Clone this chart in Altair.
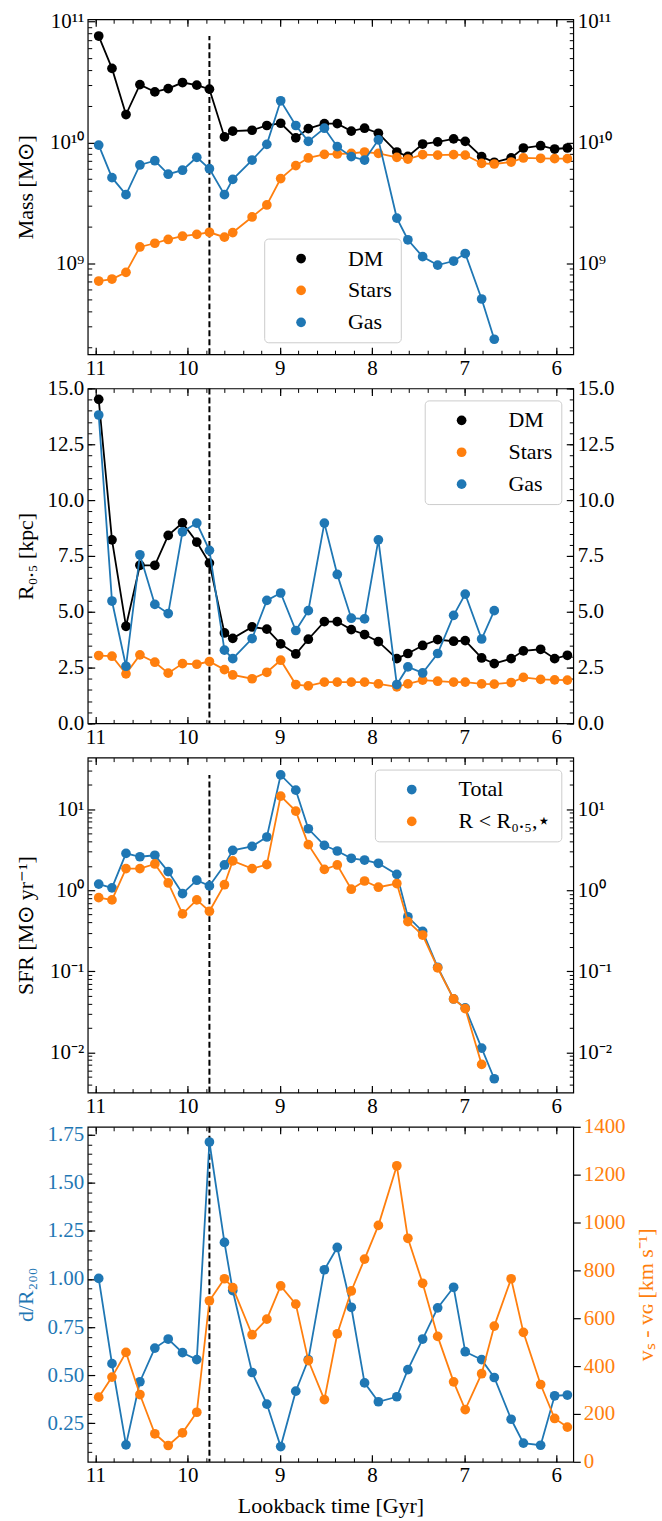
import altair as alt
import pandas as pd

# ---------------- data ----------------
T = [10.964, 10.820, 10.668, 10.517, 10.355, 10.21, 10.055, 9.90, 9.763, 9.60,
     9.51, 9.30, 9.14, 8.99, 8.826, 8.69, 8.516, 8.376, 8.224, 8.08,
     7.93, 7.73, 7.61, 7.45, 7.287, 7.114, 6.988, 6.81, 6.673, 6.49,
     6.357, 6.17, 6.018, 5.88]
T_MERGE = 9.763

MASS_DM = [7.6e10, 4.1e10, 1.70e10, 3.01e10, 2.62e10, 2.79e10, 3.13e10, 2.98e10, 2.76e10, 1.11e10,
           1.24e10, 1.26e10, 1.38e10, 1.44e10, 1.09e10, 1.30e10, 1.43e10, 1.43e10, 1.24e10, 1.31e10,
           1.19e10, 8.32e9, 7.66e9, 9.69e9, 1.01e10, 1.07e10, 1.02e10, 7.62e9, 6.84e9, 7.43e9,
           8.98e9, 9.38e9, 8.81e9, 8.98e9]
MASS_STARS = [7.1e8, 7.38e8, 8.38e8, 1.36e9, 1.46e9, 1.57e9, 1.67e9, 1.73e9, 1.80e9, 1.64e9,
              1.79e9, 2.41e9, 3.03e9, 5.01e9, 6.42e9, 7.43e9, 7.96e9, 8.01e9, 8.11e9, 8.32e9,
              8.11e9, 7.52e9, 7.28e9, 7.91e9, 7.85e9, 7.91e9, 7.85e9, 6.70e9, 6.62e9, 6.87e9,
              7.43e9, 7.38e9, 7.33e9, 7.33e9]
MASS_GAS = [9.5e9, 5.1e9, 3.69e9, 6.5e9, 7.05e9, 5.45e9, 5.88e9, 7.52e9, 6.05e9, 3.69e9,
            4.94e9, 7.14e9, 9.63e9, 2.21e10, 1.38e10, 1.02e10, 1.31e10, 9.21e9, 7.62e9, 7.14e9,
            1.05e10, 2.36e9, 1.56e9, 1.13e9, 9.62e8, 1.04e9, 1.20e9, 5.04e8, 2.34e8]

R_DM = [14.51, 8.22, 4.35, 7.08, 7.08, 8.42, 8.98, 8.12, 7.18, 4.05,
        3.81, 4.32, 4.22, 3.56, 3.11, 3.77, 4.56, 4.56, 4.20, 3.98,
        3.66, 2.90, 3.13, 3.49, 3.75, 3.68, 3.71, 2.93, 2.68, 2.90,
        3.25, 3.32, 2.90, 3.05]
R_STARS = [3.04, 3.01, 2.22, 3.07, 2.74, 2.25, 2.68, 2.65, 2.77, 2.41,
           2.17, 2.00, 2.29, 2.83, 1.74, 1.68, 1.85, 1.85, 1.85, 1.85,
           1.77, 1.64, 1.77, 1.94, 1.89, 1.85, 1.85, 1.77, 1.76, 1.83,
           2.06, 1.97, 1.95, 1.94]
R_GAS = [13.81, 5.48, 2.56, 7.55, 5.33, 4.92, 8.58, 8.97, 7.75, 3.28,
         2.90, 3.80, 5.51, 5.84, 4.16, 5.05, 8.97, 6.67, 4.71, 4.68,
         8.22, 1.74, 2.53, 2.26, 3.13, 4.84, 5.79, 3.78, 5.05]

SFR_TOTAL = [1.19, 1.07, 2.85, 2.59, 2.70, 1.70, 0.91, 1.33, 1.13, 2.05,
             3.11, 3.48, 4.54, 26.5, 17.2, 5.74, 3.58, 3.05, 2.48, 2.36,
             2.15, 1.57, 0.47, 0.31, 0.112, 0.0455, 0.0352, 0.01125, 0.00471]
SFR_INNER = [0.81, 0.76, 1.85, 1.85, 2.11, 1.23, 0.51, 0.76, 0.55, 1.17,
             2.30, 1.85, 2.07, 14.5, 9.48, 3.65, 1.81, 2.05, 1.03, 1.30,
             1.09, 1.21, 0.41, 0.28, 0.110, 0.0455, 0.0346, 0.00708]

DIST = [1.003, 0.560, 0.138, 0.466, 0.641, 0.688, 0.617, 0.581, 1.712, 1.190,
        0.940, 0.514, 0.350, 0.129, 0.417, 0.581, 1.048, 1.164, 0.853, 0.460,
        0.362, 0.388, 0.529, 0.688, 0.850, 0.957, 0.622, 0.581, 0.488, 0.271,
        0.147, 0.136, 0.393, 0.397]
VREL = [270, 354, 457, 281, 117, 68, 121, 207, 673, 765,
        728, 531, 596, 735, 659, 423, 260, 535, 714, 847,
        988, 1237, 934, 746, 524, 334, 218, 368, 567, 765,
        541, 323, 181, 145]

# ---------------- ticks / labels ----------------
X_MAJOR = [11, 10, 9, 8, 7, 6]
X_MINOR = [6.0, 6.2, 6.4, 6.6, 6.8, 7.0, 7.2, 7.4, 7.6, 7.8, 8.0, 8.2, 8.4, 8.6, 8.8,
           9.0, 9.2, 9.4, 9.6, 9.8, 10.0, 10.2, 10.4, 10.6, 10.8, 11.0]
MASS_MAJOR = [1e9, 1e10, 1e11]
MASS_LABELS = ["10⁹", "10¹⁰", "10¹¹"]
SFR_MAJOR = [1e-2, 1e-1, 1e0, 1e1]
SFR_LABELS = ["10⁻²", "10⁻¹", "10⁰", "10¹"]
R_MAJOR = [0.0, 2.5, 5.0, 7.5, 10.0, 12.5, 15.0]
R_MINOR = [i * 0.5 for i in range(31)]
D_MAJOR = [0.25, 0.50, 0.75, 1.00, 1.25, 1.50, 1.75]
D_MINOR = [round(0.10 + 0.05 * i, 2) for i in range(34)]
V_MAJOR = [0, 200, 400, 600, 800, 1000, 1200, 1400]

FONT = "Liberation Serif"
BLUE, ORANGE, BLACK = "#1f77b4", "#ff7f0e", "#000000"
W, H = 487, 336
MSIZE = 95
LW = 1.8

XSCALE = alt.Scale(domain=[11.083, 5.816], nice=False, zero=False)
MASS_DOM = [10 ** 8.245, 10 ** 11.02]
SFR_DOM = [10 ** -2.498, 10 ** 1.637]


def log_minor(dom, exps):
    out = []
    for e in exps:
        for k in range(2, 10):
            v = k * 10.0 ** e
            if dom[0] <= v <= dom[1]:
                out.append(v)
    return out


def lexpr(values, labels):
    s = "''"
    for v, l in zip(values[::-1], labels[::-1]):
        s = f"datum.value == {v!r} ? '{l}' : ({s})"
    return s


def tick_axis(orient, values, size, width):
    return alt.Axis(orient=orient, values=values, tickSize=size, offset=-size, tickWidth=width,
                    tickColor="black", labels=False, domain=False, grid=False, title=None)


def xlabel_axis(title=None):
    kw = dict(orient="bottom", values=X_MAJOR, format="d", ticks=False, domain=False, grid=False,
              labelPadding=3, labelFlush=False, labelOverlap=False)
    if title:
        kw.update(title=title, titleY=51, titleBaseline="alphabetic")
    else:
        kw.update(title=None)
    return alt.Axis(**kw)


def ylabel_axis(orient, values, title=None, fmt=None, expr=None, color="black"):
    kw = dict(orient=orient, values=values, ticks=False, domain=False, grid=False,
              labelPadding=4, labelFlush=False, labelOverlap=False, labelColor=color)
    if fmt:
        kw["format"] = fmt
    if expr:
        kw["labelExpr"] = expr
    if title:
        kw.update(title=title, titleX=-62, titleBaseline="middle", titleAngle=270, titleColor=color)
    else:
        kw["title"] = None
    return alt.Axis(**kw)


def x_axes(title=None):
    return [xlabel_axis(title), tick_axis("bottom", X_MAJOR, 7, 1.2), tick_axis("bottom", X_MINOR, 4, 1.0),
            tick_axis("top", X_MAJOR, 7, 1.2), tick_axis("top", X_MINOR, 4, 1.0)]


def ghost(df, yfield, yscale, xaxis, yaxis):
    return alt.Chart(df).mark_point(opacity=0, size=1).encode(
        x=alt.X("t:Q", scale=XSCALE, axis=xaxis),
        y=alt.Y(f"{yfield}:Q", scale=yscale, axis=yaxis))


def series(df, names, colors, yscale, legend):
    cscale = alt.Scale(domain=names, range=colors)
    layers = []
    for i, n in enumerate(names):
        sub = df[df.s == n]
        base = alt.Chart(sub).encode(x=alt.X("t:Q", scale=XSCALE, axis=None),
                                     y=alt.Y("v:Q", scale=yscale, axis=None))
        layers.append(base.mark_line(color=colors[i], strokeWidth=LW))
        layers.append(base.mark_circle(size=MSIZE, opacity=1).encode(
            color=alt.Color("s:N", scale=cscale, legend=legend if i == 0 else None)))
    return layers


def long(names, arrays):
    rows = []
    for n, arr in zip(names, arrays):
        for t, v in zip(T, arr):
            rows.append({"t": t, "v": v, "s": n})
    return pd.DataFrame(rows)


def vrule(yscale, y0=None, y1=None):
    enc = dict(x=alt.X(datum=T_MERGE, type="quantitative", scale=XSCALE, axis=None))
    if y0 is not None:
        enc["y"] = alt.Y(datum=y0, type="quantitative", scale=yscale, axis=None)
        enc["y2"] = alt.Y2(datum=y1)
    return alt.Chart(pd.DataFrame({"a": [0]})).mark_rule(
        color="black", strokeWidth=2, strokeDash=[6, 3]).encode(**enc)


def legend(orient, **kw):
    return alt.Legend(orient=orient, title=None, padding=9, symbolOffset=17, labelOffset=36,
                      rowPadding=10, symbolSize=MSIZE, symbolStrokeWidth=0, symbolType="circle",
                      labelFont=FONT, labelFontSize=22, strokeColor="#cccccc",
                      fillColor="rgba(255,255,255,0.8)", cornerRadius=4, **kw)


def panel(df, names, colors, yscale, ymajor, yminor, ytitle, fmt, expr, leg, rule_rng):
    yaxes = [ylabel_axis("left", ymajor, ytitle, fmt, expr),
             tick_axis("left", ymajor, 7, 1.2), tick_axis("left", yminor, 4, 1.0),
             ylabel_axis("right", ymajor, None, fmt, expr),
             tick_axis("right", ymajor, 7, 1.2), tick_axis("right", yminor, 4, 1.0)]
    xs = x_axes() + [None]
    layers = []
    if rule_rng:
        layers.append(vrule(yscale, rule_rng[0], rule_rng[1]))
    else:
        layers.append(vrule(yscale))
    layers += series(df, names, colors, yscale, leg)
    layers += [ghost(df, "v", yscale, xa, ya) for xa, ya in zip(xs, yaxes)]
    return alt.layer(*layers).resolve_axis(x="independent", y="independent").properties(width=W, height=H)


# panel 1 : masses
df1 = long(["DM", "Stars", "Gas"], [MASS_DM, MASS_STARS, MASS_GAS])
ys1 = alt.Scale(type="log", domain=MASS_DOM, nice=False)
p1 = panel(df1, ["DM", "Stars", "Gas"], [BLACK, ORANGE, BLUE], ys1, MASS_MAJOR,
           log_minor(MASS_DOM, [8, 9, 10]), "Mass [M⊙]", None, lexpr(MASS_MAJOR, MASS_LABELS),
           legend("none", legendX=177, legendY=220), (MASS_DOM[0], max(MASS_DM)))

# panel 2 : half-mass radii
df2 = long(["DM", "Stars", "Gas"], [R_DM, R_STARS, R_GAS])
ys2 = alt.Scale(domain=[0, 15], nice=False, zero=False)
p2 = panel(df2, ["DM", "Stars", "Gas"], [BLACK, ORANGE, BLUE], ys2, R_MAJOR, R_MINOR,
           "R₀.₅ [kpc]", ".1f", None, legend("top-right", offset=12), None)

# panel 3 : SFR
SFR_NAMES = ["Total", "R < R₀.₅,⋆"]
df3 = long(SFR_NAMES, [SFR_TOTAL, SFR_INNER])
ys3 = alt.Scale(type="log", domain=SFR_DOM, nice=False)
p3 = panel(df3, SFR_NAMES, [BLUE, ORANGE], ys3, SFR_MAJOR, log_minor(SFR_DOM, [-3, -2, -1, 0, 1]),
           "SFR [M⊙ yr⁻¹]", None, lexpr(SFR_MAJOR, SFR_LABELS), legend("top-right", offset=12),
           (SFR_DOM[0], max(SFR_TOTAL)))

# panel 4 : distance and relative velocity
df4 = pd.DataFrame({"t": T, "d": DIST, "v": VREL})
ys4 = alt.Scale(domain=[0.050, 1.791], nice=False, zero=False)
ys4r = alt.Scale(domain=[0, 1400], nice=False, zero=False)
xa4 = x_axes("Lookback time [Gyr]")
ya4 = [ylabel_axis("left", D_MAJOR, "d/R₂₀₀", ".2f", None, BLUE),
       tick_axis("left", D_MAJOR, 7, 1.2), tick_axis("left", D_MINOR, 4, 1.0), None, None]
base_d = alt.Chart(df4).encode(x=alt.X("t:Q", scale=XSCALE, axis=None),
                               y=alt.Y("d:Q", scale=ys4, axis=None))
base_v = alt.Chart(df4).encode(x=alt.X("t:Q", scale=XSCALE, axis=None),
                               y=alt.Y("v:Q", scale=ys4r, axis=alt.Axis(
                                   orient="right", values=V_MAJOR, format="d", tickSize=7, tickWidth=1.2,
                                   tickColor="black", domain=False, grid=False, labelPadding=3,
                                   labelColor=ORANGE, labelFlush=False, labelOverlap=False,
                                   title="vₛ - vɢ [km s⁻¹]", titleColor=ORANGE, titleX=72.7,
                                   titleAngle=270, titleBaseline="middle")))
layers4 = [vrule(ys4),
           base_d.mark_line(color=BLUE, strokeWidth=LW),
           base_d.mark_circle(size=MSIZE, opacity=1, color=BLUE)]
layers4 += [ghost(df4, "d", ys4, xa, ya) for xa, ya in zip(xa4, ya4)]
layers4 += [base_v.mark_line(color=ORANGE, strokeWidth=LW),
            base_v.encode(y=alt.Y("v:Q", scale=ys4r, axis=None)).mark_circle(size=MSIZE, opacity=1, color=ORANGE)]
p4 = alt.layer(*layers4).resolve_axis(x="independent", y="independent").resolve_scale(
    y="independent").properties(width=W, height=H)

chart = alt.vconcat(p1, p2, p3, p4, spacing=34.3, bounds="flush").resolve_scale(
    color="independent", x="independent", y="independent"
).resolve_legend(color="independent").properties(
    padding={"left": 14, "top": 7, "right": 4, "bottom": 4}, background="white"
).configure_view(stroke="black", strokeWidth=1.2).configure_axis(
    labelFont=FONT, labelFontSize=21, titleFont=FONT, titleFontSize=22, titleFontWeight="normal"
).configure_legend(labelFont=FONT)

chart.save("out.html", embed_options={"renderer": "svg", "actions": False})
